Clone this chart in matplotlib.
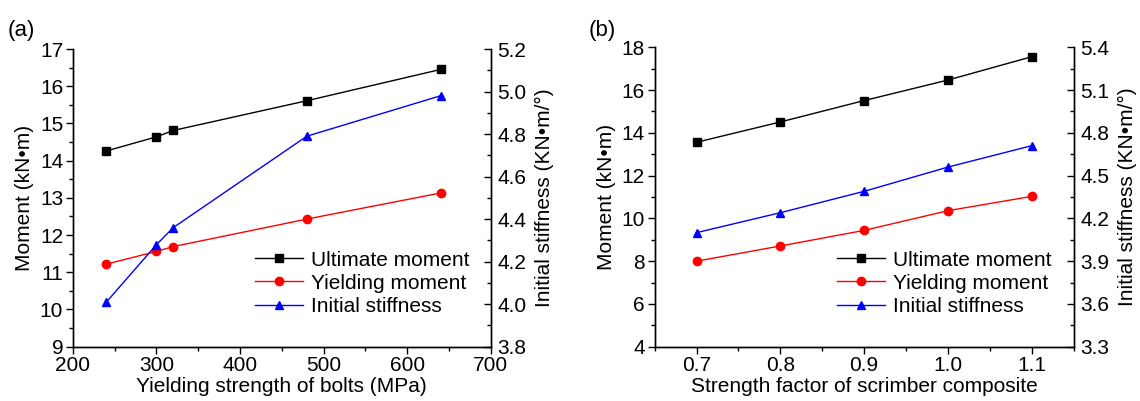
import matplotlib
matplotlib.use("Agg")
import matplotlib.pyplot as plt
from matplotlib.ticker import MultipleLocator, FormatStrFormatter

plt.rcParams['font.family'] = ['Liberation Sans', 'DejaVu Sans']
plt.rcParams['font.size'] = 15

# Panel (a)
xa = [240, 300, 320, 480, 640]
ult_a = [14.26, 14.64, 14.81, 15.61, 16.45]
yld_a = [11.22, 11.56, 11.69, 12.43, 13.13]
stf_a = [4.01, 4.28, 4.36, 4.79, 4.98]

# Panel (b)
xb = [0.7, 0.8, 0.9, 1.0, 1.1]
ult_b = [13.56, 14.51, 15.51, 16.47, 17.56]
yld_b = [8.00, 8.71, 9.44, 10.36, 11.03]
stf_b = [4.10, 4.24, 4.39, 4.56, 4.71]

labels = ["Ultimate moment", "Yielding moment", "Initial stiffness"]

fig = plt.figure(figsize=(11.4, 4.01), dpi=100)
FS = 15


def style(ax, direction):
    ax.tick_params(which='major', direction=direction, length=5, width=1, labelsize=FS, pad=2)
    ax.tick_params(which='minor', direction=direction, length=3, width=1)
    ax.tick_params(axis='x', which='both', direction='out')
    for s in ax.spines.values():
        s.set_linewidth(1)
    ax.spines['top'].set_visible(False)


def panel(rect, x, ult, yld, stf, xlim, ylim, y2lim, xmaj, xmin, ymaj, ymin,
          y2maj, y2min, xlabel, tag, tagpos, legpos, xfmt=None):
    ax = fig.add_axes(rect)
    ax2 = ax.twinx()
    l1, = ax.plot(x, ult, color='black', marker='s', markersize=5.5, lw=1)
    l2, = ax.plot(x, yld, color='red', marker='o', markersize=6, lw=1)
    l3, = ax2.plot(x, stf, color='blue', marker='^', markersize=6, lw=1)
    ax.set_xlim(*xlim)
    ax.set_ylim(*ylim)
    ax2.set_ylim(*y2lim)
    ax.xaxis.set_major_locator(MultipleLocator(xmaj))
    ax.xaxis.set_minor_locator(MultipleLocator(xmin))
    ax.yaxis.set_major_locator(MultipleLocator(ymaj))
    ax.yaxis.set_minor_locator(MultipleLocator(ymin))
    ax2.yaxis.set_major_locator(MultipleLocator(y2maj))
    ax2.yaxis.set_minor_locator(MultipleLocator(y2min))
    if xfmt:
        ax.xaxis.set_major_formatter(xfmt)
    ax2.yaxis.set_major_formatter(FormatStrFormatter('%.1f'))
    style(ax, 'out')
    style(ax2, 'in')
    ax2.tick_params(axis='y', pad=5)
    ax.set_xlabel(xlabel, fontsize=FS, labelpad=1)
    ax.set_ylabel("Moment (kN•m)", fontsize=FS, labelpad=4)
    ax2.set_ylabel("Initial stiffness (KN•m/°)", fontsize=FS, labelpad=6)
    ax.legend([l1, l2, l3], labels, loc='upper left', bbox_to_anchor=legpos,
              frameon=False, fontsize=FS, borderpad=0, borderaxespad=0,
              handlelength=2.3, handletextpad=0.4, labelspacing=0.2)
    fig.text(tagpos[0], tagpos[1], tag, fontsize=16, ha='left', va='center')
    return ax, ax2


panel([0.0640, 0.1354, 0.3664, 0.7424], xa, ult_a, yld_a, stf_a,
      (200, 700), (9, 17), (3.8, 5.2), 100, 50, 1, 0.5, 0.2, 0.1,
      "Yielding strength of bolts (MPa)", "(a)", (0.007, 0.925),
      legpos=(0.436, 0.323))

panel([0.5743, 0.1354, 0.3675, 0.7466], xb, ult_b, yld_b, stf_b,
      (0.65, 1.15), (4, 18), (3.3, 5.4), 0.1, 0.05, 2, 1, 0.3, 0.15,
      "Strength factor of scrimber composite", "(b)", (0.516, 0.925),
      legpos=(0.435, 0.321), xfmt=FormatStrFormatter('%.1f'))

fig.savefig("out.png", dpi=100)
